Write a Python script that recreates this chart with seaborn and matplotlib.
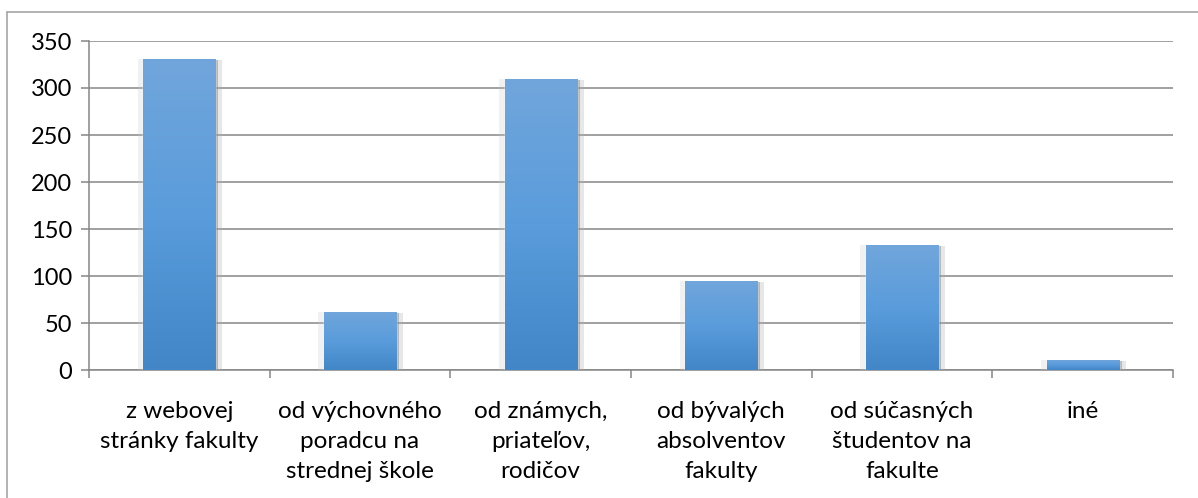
import numpy as np
import pandas as pd
import seaborn as sns
import matplotlib
matplotlib.use("Agg")
from matplotlib import pyplot as plt
from matplotlib.colors import LinearSegmentedColormap
from matplotlib.lines import Line2D
import matplotlib.patheffects as pe

categories = ["z webovej\nstránky fakulty", "od výchovného\nporadcu na\nstrednej škole",
              "od známych,\npriateľov,\nrodičov", "od bývalých\nabsolventov\nfakulty",
              "od súčasných\nštudentov na\nfakulte", "iné"]
counts = [331, 62, 310, 95, 133, 11]
yticks = [0, 50, 100, 150, 200, 250, 300, 350]

sns.set_style("white")
plt.rcParams['font.family'] = ['Lato', 'DejaVu Sans']

fig = plt.figure(figsize=(11.98, 4.98), dpi=100)
ax = fig.add_axes([89/1198, 1 - 370/498, (1173-89)/1198, (370-41)/498])

df = pd.DataFrame({"cat": categories, "n": counts})
sns.barplot(data=df, x="cat", y="n", ax=ax, color="#5B9BD5", width=0.40, saturation=1, zorder=3)

#-------- gradient + shadow on each bar --------
grad = LinearSegmentedColormap.from_list("bar", ["#4286C7", "#5A9CDC", "#71A6DB"])
for p in ax.patches:
    p.set_path_effects([
        pe.SimplePatchShadow(offset=(-4, 0), shadow_rgbFace="#c8c8c8", alpha=0.25),
        pe.SimplePatchShadow(offset=(5, -1), shadow_rgbFace="#b0b0b0", alpha=0.3),
        pe.SimplePatchShadow(offset=(2, -1), shadow_rgbFace="#8a8a8a", alpha=0.5),
        pe.Normal()])
    x0, y0 = p.get_x(), p.get_y()
    w, h = p.get_width(), p.get_height()
    im = ax.imshow(np.linspace(0, 1, 256).reshape(-1, 1), cmap=grad, origin="lower",
                   extent=[x0, x0 + w, y0, y0 + h], aspect="auto", zorder=4)
    im.set_clip_path(p)

ax.set_xlim(-0.5, len(categories) - 0.5)
ax.set_ylim(0, 350)
ax.set_yticks(yticks)
ax.set_xlabel("")
ax.set_ylabel("")

ax.grid(axis="y", color="#868686", linewidth=1.1, zorder=0)
ax.set_axisbelow(True)
for s in ["top", "right"]:
    ax.spines[s].set_visible(False)
for s in ["left", "bottom"]:
    ax.spines[s].set_color("#868686")
    ax.spines[s].set_linewidth(1.1)

ax.tick_params(axis="y", length=6, width=1.1, color="#868686", labelsize=17, pad=6, left=True)
ax.tick_params(axis="x", which="major", length=0, labelsize=17.5, pad=22)
ax.set_xticks(np.arange(-0.5, len(categories)), minor=True)
ax.tick_params(axis="x", which="minor", length=6, width=1.1, color="#868686", bottom=True)
for lbl in ax.get_xticklabels():
    lbl.set_linespacing(1.55)
for lbl in ax.get_xticklabels() + ax.get_yticklabels():
    lbl.set_color("black")

#-------- chart area border --------
fig.add_artist(Line2D([7/1198, 1], [1 - 12/498, 1 - 12/498], color="#a6a6a6", linewidth=1.2))
fig.add_artist(Line2D([7/1198, 7/1198], [0, 1 - 12/498], color="#a6a6a6", linewidth=1.2))

fig.savefig("out.png", dpi=100)
